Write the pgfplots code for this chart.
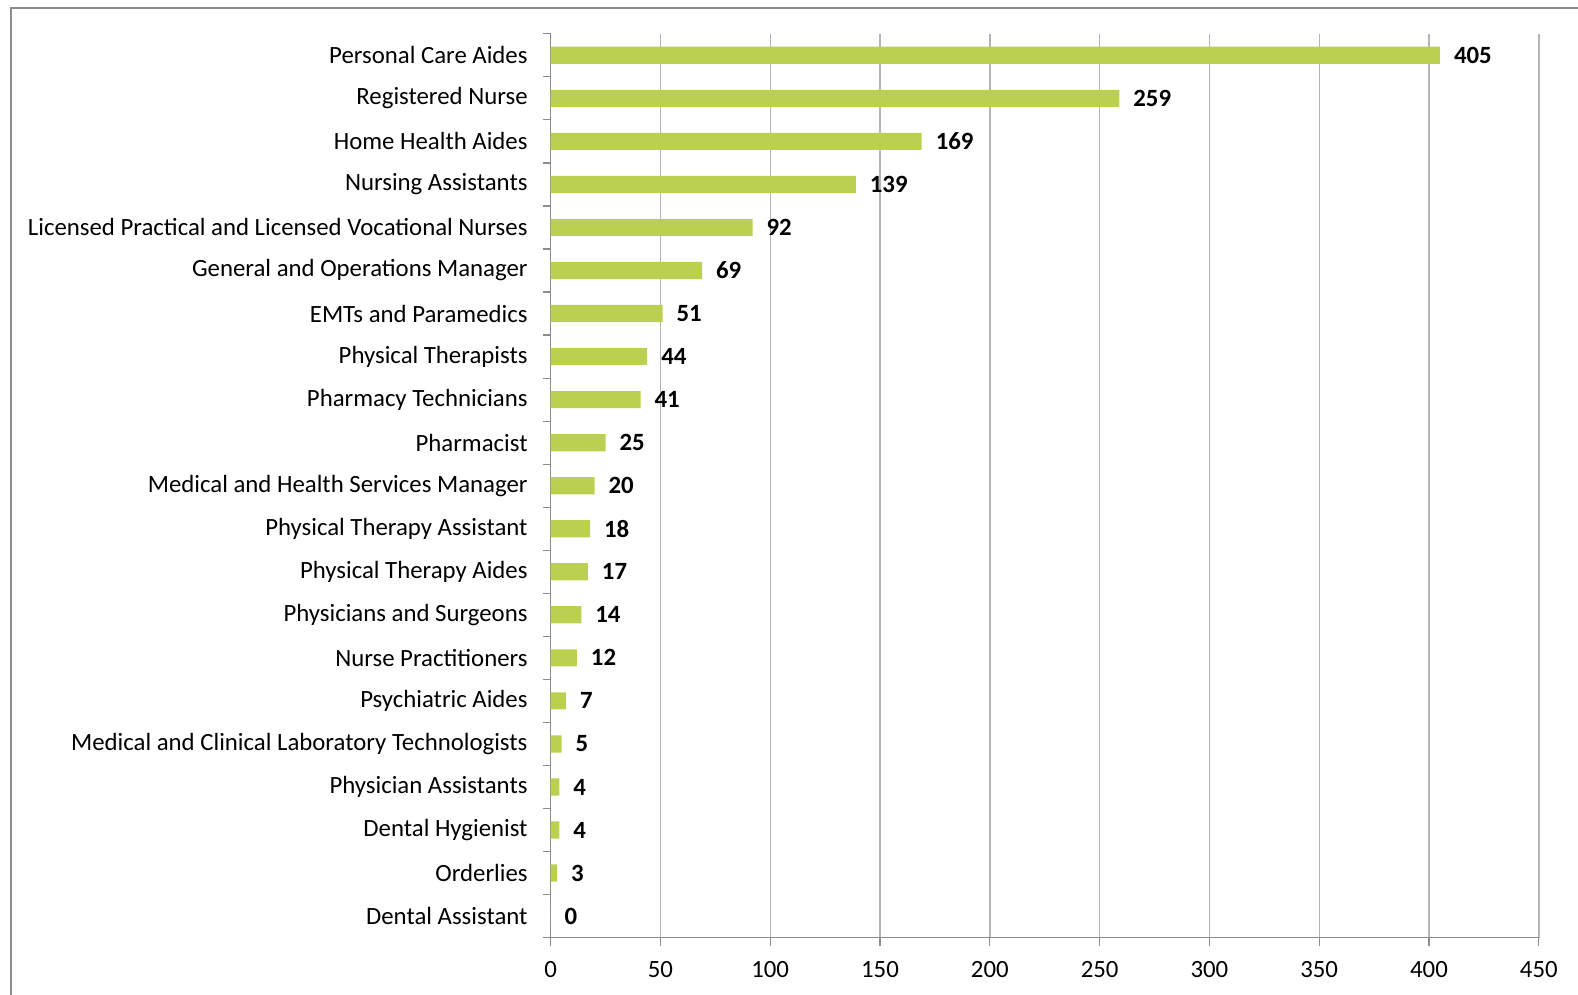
\documentclass[border=0pt]{standalone}
\usepackage{pgfplots}
\pgfplotsset{compat=1.18}
\usepackage{fontspec}
\setmainfont{Carlito}
\definecolor{bargreen}{HTML}{BBD04E}
\definecolor{gridgray}{HTML}{B4B4B4}
\definecolor{axisgray}{HTML}{8C8C8C}
\begin{document}
\begin{tikzpicture}
\useasboundingbox (0,0) rectangle (789bp,497.5bp);
\begin{scope}
\clip (0,0) rectangle (789bp,497.5bp);
\draw[axisgray, line width=1bp] (5.5bp,-10bp) -- (5.5bp,493.6bp) -- (800bp,493.6bp);
\end{scope}
\begin{axis}[
  at={(275.3bp,28.7bp)}, anchor=south west,
  scale only axis, width=494.1bp, height=451.9bp,
  xbar, bar width=8.6bp,
  xmin=0, xmax=450, xtick={0,50,...,450},
  ymin=-0.5, ymax=20.5, y dir=reverse,
  ytick={0,...,20},
  yticklabels={Personal Care Aides, Registered Nurse, Home Health Aides, Nursing Assistants, Licensed Practical and Licensed Vocational Nurses, General and Operations Manager, EMTs and Paramedics, Physical Therapists, Pharmacy Technicians, Pharmacist, Medical and Health Services Manager, Physical Therapy Assistant, Physical Therapy Aides, Physicians and Surgeons, Nurse Practitioners, Psychiatric Aides, Medical and Clinical Laboratory Technologists, Physician Assistants, Dental Hygienist, Orderlies, Dental Assistant},
  minor ytick={-0.5,0.5,...,20.5},
  major tick length=4bp, minor tick length=4bp,
  tick align=outside,
  ytick style={draw=none},
  minor y tick style={draw=axisgray, line width=0.6bp},
  xtick style={draw=axisgray, line width=0.6bp},
  xmajorgrids, grid style={gridgray, line width=0.7bp},
  axis x line*=bottom, axis y line*=left,
  axis line style={axisgray, line width=0.7bp, -},
  tick label style={font=\fontsize{12.4bp}{14bp}\selectfont, text=black},
  /pgf/number format/assume math mode=true,
  yticklabel style={xshift=-4bp},
  xticklabel style={yshift=-4.5bp},
  nodes near coords,
  nodes near coords style={font=\fontsize{12.4bp}{14bp}\selectfont\bfseries, anchor=west, xshift=3.5bp, text=black},
  clip=false,
]
\addplot[fill=bargreen, draw=none] coordinates {
(405,0) (259,1) (169,2) (139,3) (92,4) (69,5) (51,6) (44,7) (41,8) (25,9) (20,10) (18,11) (17,12) (14,13) (12,14) (7,15) (5,16) (4,17) (4,18) (3,19) (0,20)
};
\end{axis}
\end{tikzpicture}
\end{document}
